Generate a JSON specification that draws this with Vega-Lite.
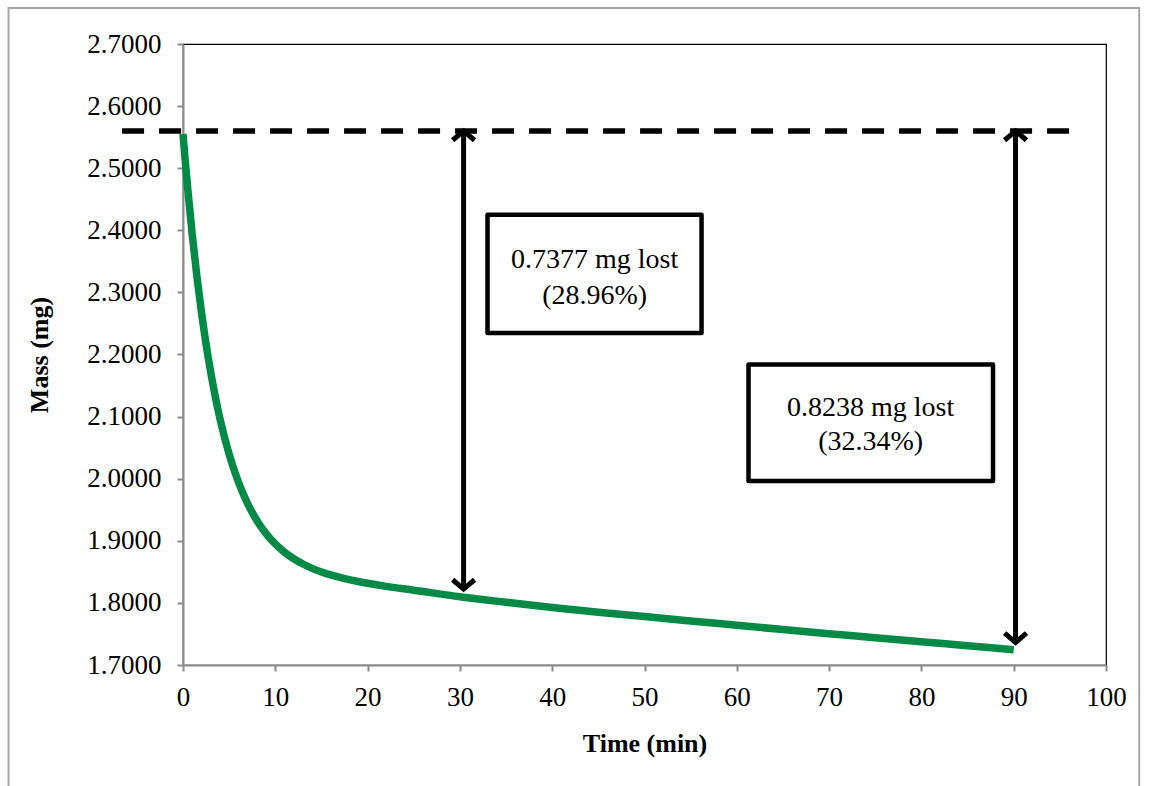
{
  "$schema": "https://vega.github.io/schema/vega-lite/v6.json",
  "width": 923,
  "height": 621,
  "autosize": "none",
  "padding": {"left": 183, "top": 44, "right": 43, "bottom": 121},
  "background": "white",
  "config": {
    "view": {"stroke": "black", "strokeWidth": 1.2},
    "font": "Liberation Serif",
    "axis": {
      "grid": false,
      "labelFont": "Liberation Serif",
      "labelFontSize": 27,
      "labelColor": "black",
      "labelFlush": false,
      "labelOverlap": false,
      "titleFont": "Liberation Serif",
      "titleFontSize": 26,
      "titleFontWeight": "bold",
      "titleColor": "black",
      "domainColor": "#8c8c8c",
      "domainWidth": 2,
      "tickColor": "#8c8c8c",
      "tickWidth": 2,
      "tickSize": 6
    }
  },
  "datasets": {
    "curve": [
      {"time": 0, "mass": 2.555},
      {"time": 0.25, "mass": 2.51},
      {"time": 0.5, "mass": 2.469},
      {"time": 1, "mass": 2.393},
      {"time": 1.5, "mass": 2.3265},
      {"time": 2, "mass": 2.268},
      {"time": 2.5, "mass": 2.2167},
      {"time": 3, "mass": 2.1716},
      {"time": 3.5, "mass": 2.132},
      {"time": 4, "mass": 2.097},
      {"time": 5, "mass": 2.0394},
      {"time": 6, "mass": 1.9947},
      {"time": 7, "mass": 1.9599},
      {"time": 8, "mass": 1.9328},
      {"time": 9, "mass": 1.9116},
      {"time": 10, "mass": 1.8949},
      {"time": 11, "mass": 1.8816},
      {"time": 12, "mass": 1.8711},
      {"time": 13, "mass": 1.8626},
      {"time": 14, "mass": 1.8556},
      {"time": 15, "mass": 1.8499},
      {"time": 16, "mass": 1.8451},
      {"time": 18, "mass": 1.8375},
      {"time": 20, "mass": 1.8316},
      {"time": 22, "mass": 1.8266},
      {"time": 25, "mass": 1.8205},
      {"time": 30, "mass": 1.81},
      {"time": 35, "mass": 1.801},
      {"time": 40, "mass": 1.7925},
      {"time": 45, "mass": 1.785},
      {"time": 50, "mass": 1.778},
      {"time": 55, "mass": 1.771},
      {"time": 60, "mass": 1.764},
      {"time": 65, "mass": 1.757},
      {"time": 70, "mass": 1.7505},
      {"time": 75, "mass": 1.744},
      {"time": 80, "mass": 1.7375},
      {"time": 85, "mass": 1.731},
      {"time": 90, "mass": 1.7245}
    ],
    "frame": [{"x1": -18.9, "x2": 103.6, "y1": 2.758, "y2": 1.45}],
    "baseline": [{"x1": -6.6, "x2": 96.2, "level": 2.56}],
    "arrows": [
      {"time": 30.4, "top": 2.56, "bottom": 1.8223},
      {"time": 90.2, "top": 2.56, "bottom": 1.7362}
    ],
    "boxes": [
      {"x1": 32.99, "x2": 56.18, "y1": 2.425, "y2": 2.2346},
      {"x1": 61.27, "x2": 87.76, "y1": 2.1839, "y2": 1.9963}
    ],
    "labels": [
      {"time": 44.6, "mass": 2.352, "text": "0.7377 mg lost"},
      {"time": 44.6, "mass": 2.294, "text": "(28.96%)"},
      {"time": 74.5, "mass": 2.1138, "text": "0.8238 mg lost"},
      {"time": 74.5, "mass": 2.059, "text": "(32.34%)"}
    ]
  },
  "layer": [
    {
      "data": {"name": "frame"},
      "mark": {"type": "rect", "fill": null, "filled": false, "stroke": "#a6a6a6", "strokeWidth": 2, "clip": false},
      "encoding": {
        "x": {"field": "x1", "type": "quantitative", "scale": {"domain": [0, 100], "nice": false, "zero": false}, "axis": {"values": [0,10,20,30,40,50,60,70,80,90,100], "title": "Time (min)", "labelPadding": 13, "titlePadding": 20}},
        "x2": {"field": "x2"},
        "y": {"field": "y1", "type": "quantitative", "scale": {"domain": [1.7, 2.7], "nice": false, "zero": false}, "axis": {"values": [1.7,1.8,1.9,2.0,2.1,2.2,2.3,2.4,2.5,2.6,2.7], "format": ".4f", "title": "Mass (mg)", "labelPadding": 16, "titlePadding": 34}},
        "y2": {"field": "y2"}
      }
    },
    {
      "data": {"name": "curve"},
      "mark": {"type": "line", "color": "#008a45", "strokeWidth": 7.5, "interpolate": "monotone"},
      "encoding": {
        "x": {"field": "time", "type": "quantitative"},
        "y": {"field": "mass", "type": "quantitative"}
      }
    },
    {
      "data": {"name": "baseline"},
      "mark": {"type": "rule", "color": "black", "strokeWidth": 5.5, "strokeDash": [22, 15]},
      "encoding": {
        "x": {"field": "x1", "type": "quantitative"},
        "x2": {"field": "x2"},
        "y": {"field": "level", "type": "quantitative"}
      }
    },
    {
      "data": {"name": "arrows"},
      "mark": {"type": "rule", "color": "black", "strokeWidth": 5},
      "encoding": {
        "x": {"field": "time", "type": "quantitative"},
        "y": {"field": "top", "type": "quantitative"},
        "y2": {"field": "bottom"}
      }
    },
    {
      "data": {"name": "arrows"},
      "mark": {"type": "point", "shape": "M-1,0.85L0,0L1,0.85", "filled": false, "stroke": "black", "strokeWidth": 5, "size": 480, "opacity": 1, "strokeJoin": "miter"},
      "encoding": {
        "x": {"field": "time", "type": "quantitative"},
        "y": {"field": "top", "type": "quantitative"}
      }
    },
    {
      "data": {"name": "arrows"},
      "mark": {"type": "point", "shape": "M-1,-0.85L0,0L1,-0.85", "filled": false, "stroke": "black", "strokeWidth": 5, "size": 480, "opacity": 1, "strokeJoin": "miter"},
      "encoding": {
        "x": {"field": "time", "type": "quantitative"},
        "y": {"field": "bottom", "type": "quantitative"}
      }
    },
    {
      "data": {"name": "boxes"},
      "mark": {"type": "rect", "fill": "white", "stroke": "black", "strokeWidth": 4.5, "strokeJoin": "round"},
      "encoding": {
        "x": {"field": "x1", "type": "quantitative"},
        "x2": {"field": "x2"},
        "y": {"field": "y1", "type": "quantitative"},
        "y2": {"field": "y2"}
      }
    },
    {
      "data": {"name": "labels"},
      "mark": {"type": "text", "font": "Liberation Serif", "fontSize": 28, "color": "black", "align": "center", "baseline": "middle"},
      "encoding": {
        "x": {"field": "time", "type": "quantitative"},
        "y": {"field": "mass", "type": "quantitative"},
        "text": {"field": "text"}
      }
    }
  ]
}
